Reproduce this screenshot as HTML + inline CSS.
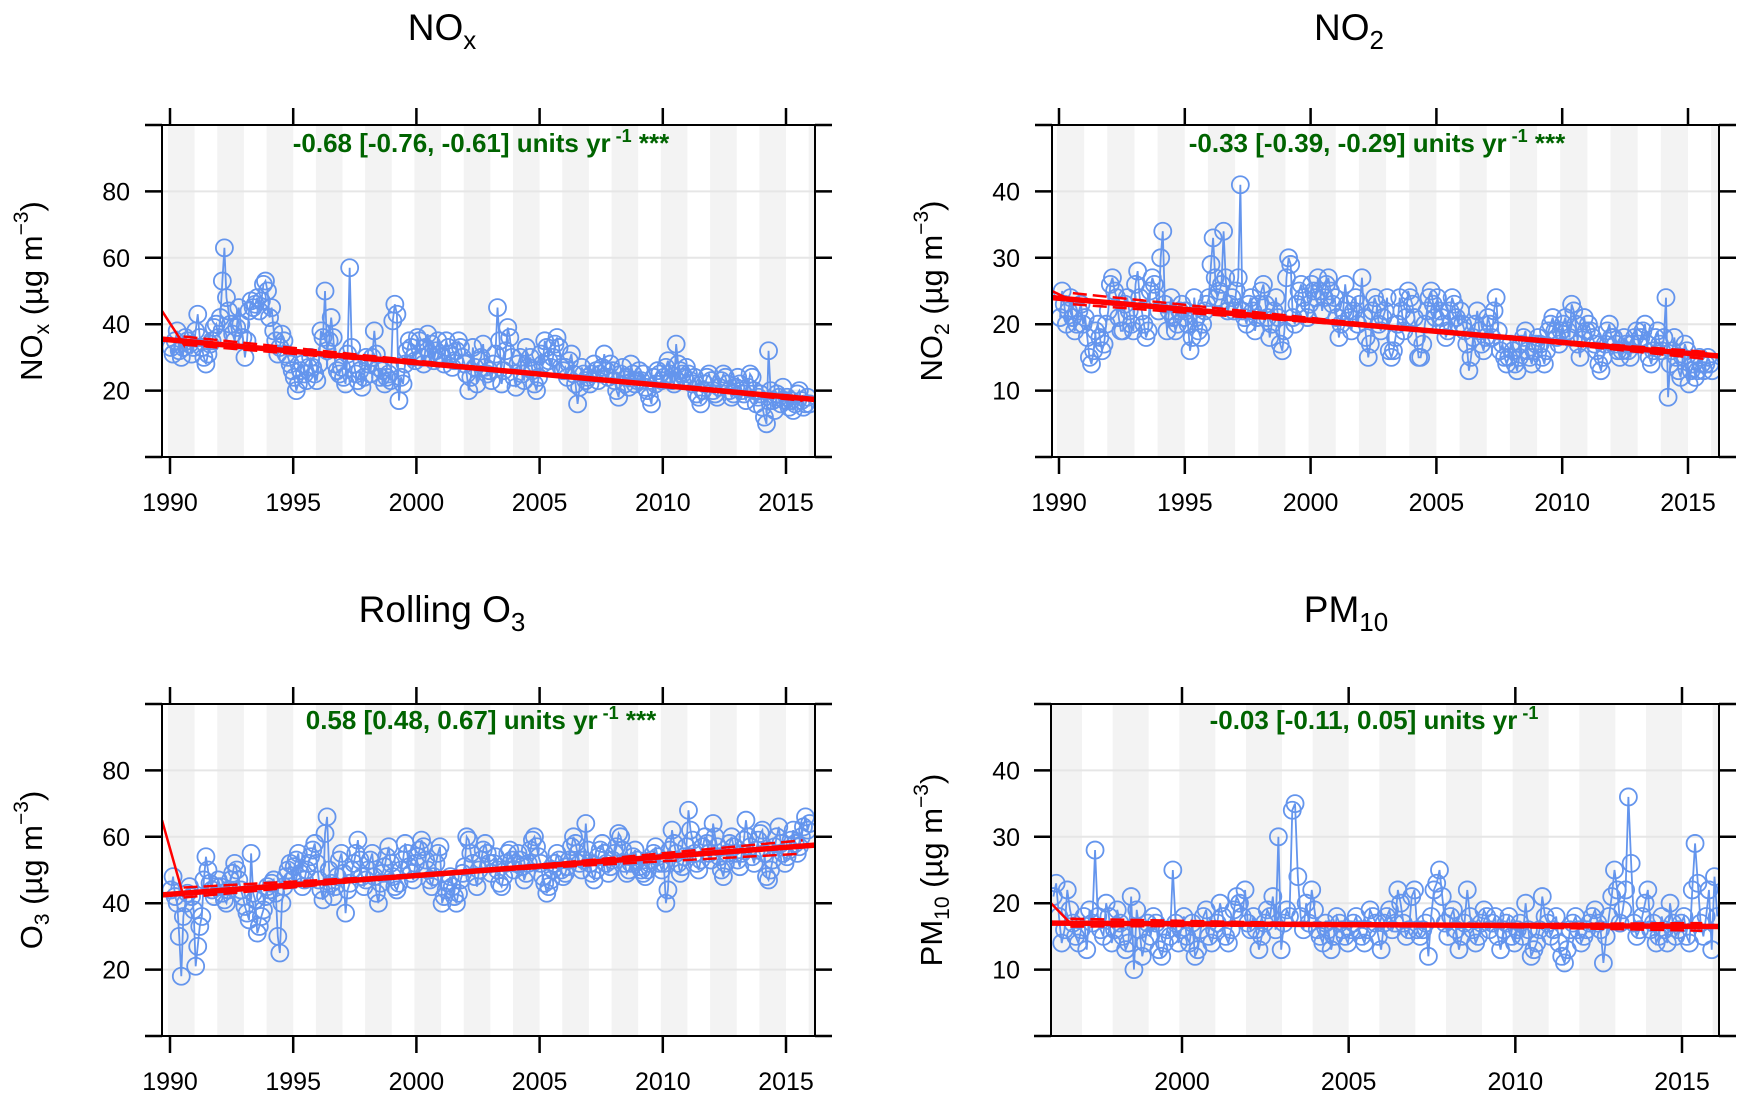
<!DOCTYPE html>
<html><head><meta charset="utf-8">
<style>
html,body{margin:0;padding:0;background:#fff;}
svg{display:block;font-family:"Liberation Sans",sans-serif;}
</style></head>
<body>
<svg id="chart" width="1746" height="1108" viewBox="0 0 1746 1108" xmlns="http://www.w3.org/2000/svg"></svg>
<script>
// ---- data (monthly means) ----
const noxValues = [
 33,31,35,38,32,30,33,36,35,34,31,33,
 38,43,36,33,30,28,31,34,35,39,40,36,
 42,53,63,48,44,40,37,35,39,45,40,36,
 30,35,44,47,45,46,48,44,47,52,53,50,
 42,45,38,35,31,33,37,35,31,30,28,26,
 24,20,22,26,28,25,23,27,30,27,25,23,
 28,38,36,50,32,35,42,36,28,26,25,27,
 24,22,31,57,33,28,25,23,26,21,24,30,
 28,25,30,38,31,27,24,26,22,24,25,23,
 41,46,43,17,24,22,28,32,35,33,30,29,
 36,35,30,28,33,37,31,34,29,32,35,31,
 30,28,35,33,31,27,29,32,35,33,30,28,
 25,20,24,33,27,22,29,30,34,27,25,26,
 23,28,31,45,35,22,26,32,39,36,30,24,
 21,28,30,25,23,33,27,30,26,22,20,24,
 31,28,35,33,29,27,30,34,36,33,27,26,
 27,24,29,31,25,22,16,21,27,25,23,24,
 22,25,28,26,23,25,27,31,26,24,28,26,
 23,20,18,25,27,22,24,21,28,25,22,23,
 26,23,25,21,20,18,16,24,22,26,25,23,
 24,27,29,25,23,22,34,28,26,25,24,27,
 25,23,22,24,19,18,16,20,22,24,25,23,
 20,19,18,21,23,25,24,22,20,18,19,21,
 24,22,20,19,17,21,25,24,20,16,18,19,
 15,12,10,32,20,17,14,19,18,16,21,17,
 18,15,17,14,16,19,20,17,15,16,18,16
];
const no2Values = [
 21,25,23,20,22,24,21,19,20,22,23,20,
 21,18,15,14,16,19,20,18,16,17,20,22,
 26,27,25,24,21,19,19,23,24,22,20,19,
 26,28,24,22,20,18,19,25,27,26,24,22,
 30,34,23,19,22,24,21,19,20,22,23,21,
 22,20,16,18,24,21,19,18,20,22,23,24,
 29,33,27,24,25,26,34,27,22,23,24,22,
 25,27,41,22,21,20,23,24,22,19,21,23,
 25,26,23,21,18,20,22,24,21,17,16,19,
 27,30,29,21,20,23,25,26,24,22,21,23,
 26,25,24,27,25,22,24,26,27,25,23,24,
 21,18,20,22,26,23,21,19,22,24,20,23,
 27,21,18,15,17,22,24,23,20,19,21,22,
 24,16,15,16,18,20,24,22,19,21,25,24,
 23,21,18,15,15,17,20,22,24,25,23,21,
 24,22,21,20,18,19,22,24,23,21,20,22,
 20,19,17,13,15,18,20,22,19,17,16,18,
 21,20,18,22,24,19,16,17,15,14,15,17,
 16,14,13,15,17,18,19,16,15,14,16,17,
 18,17,15,14,16,19,20,21,19,18,17,19,
 20,21,19,18,23,22,20,17,15,18,21,19,
 20,19,18,17,16,14,13,15,17,19,20,18,
 18,17,16,15,16,18,17,16,15,17,18,19,
 17,18,19,20,17,15,14,16,18,19,17,16,
 18,24,9,14,16,18,15,13,12,15,17,16,
 11,13,14,12,13,15,14,13,14,15,14,13
];
const o3Values = [
 44,48,42,40,30,18,36,40,43,45,42,38,
 21,27,33,36,47,54,50,46,44,42,45,47,
 45,43,41,40,44,47,49,52,50,47,44,42,
 39,37,35,55,43,41,31,33,36,38,42,45,
 44,46,47,43,30,25,40,45,48,50,52,47,
 51,53,55,49,45,47,50,52,54,56,58,52,
 47,44,41,61,66,50,46,42,45,48,53,55,
 49,37,44,46,50,52,55,59,53,48,45,47,
 50,53,55,48,43,40,46,49,51,54,57,52,
 48,45,44,46,50,53,58,55,51,49,47,52,
 54,56,59,57,53,50,47,45,48,52,55,57,
 40,42,44,46,48,45,42,40,43,47,49,51,
 60,59,55,52,48,45,50,53,56,58,55,52,
 49,52,54,50,46,45,48,52,55,56,53,50,
 52,55,53,51,47,49,52,56,59,60,57,54,
 52,48,46,43,45,47,50,52,55,53,50,48,
 49,51,53,57,60,58,55,52,50,53,64,56,
 52,49,47,50,54,56,58,55,52,49,51,53,
 55,57,61,60,56,52,49,50,52,54,56,53,
 51,50,49,48,50,52,53,55,57,54,52,50,
 52,40,44,56,62,58,55,52,49,51,54,57,
 68,62,59,55,52,50,53,57,60,58,55,53,
 64,60,57,54,50,48,52,55,58,60,57,55,
 53,51,55,59,65,60,57,54,52,56,59,61,
 62,55,48,47,50,53,57,60,63,58,55,52,
 54,56,59,62,58,55,57,60,63,66,62,64
];
const pm10Values = [
 21,23,18,14,16,22,19,17,15,14,16,18,
 13,19,17,28,18,16,15,20,18,14,16,19,
 17,15,13,14,21,10,19,16,12,14,17,15,
 18,17,13,12,14,16,15,25,17,14,16,18,
 15,14,17,12,13,16,18,19,15,14,16,17,
 20,18,15,14,16,19,21,20,18,22,17,16,
 18,16,13,15,17,19,18,21,16,30,13,17,
 19,18,34,35,24,18,16,20,17,22,19,16,
 15,14,17,16,13,15,18,17,16,15,14,16,
 17,18,16,15,14,16,19,18,17,15,13,17,
 18,19,16,17,22,20,17,15,16,21,22,16,
 15,16,17,12,18,22,23,25,21,17,15,18,
 19,16,13,15,17,22,18,16,14,15,17,19,
 18,16,17,18,15,13,16,17,18,15,14,16,
 17,15,20,16,12,13,14,16,21,18,17,15,
 16,18,14,12,11,13,16,17,18,16,14,15,
 16,17,18,19,17,16,11,15,18,21,25,22,
 17,19,22,36,26,17,15,16,18,20,22,16,
 17,14,15,18,16,14,20,17,15,16,17,18,
 15,14,22,29,23,17,15,18,22,13,24,18
];
// trend values [start, end]
const noxTrend = [35.5, 17.3];
const no2Trend = [24.0, 15.2];
const o3Trend = [42.5, 57.5];
const pm10Trend = [17.0, 16.5];
const noxArtifact = [44, 34];
const no2Artifact = [25, 23.5];
const o3Artifact = [65, 42];
const pm10Artifact = [20, 17];

const svg = document.getElementById('chart');
const NS = 'http://www.w3.org/2000/svg';
function mk(tag, attrs, parent){
  const e = document.createElementNS(NS, tag);
  for (const k in attrs) e.setAttribute(k, attrs[k]);
  (parent||svg).appendChild(e);
  return e;
}

const panels = [
 {key:'nox', vals:noxValues, t0:1990, trend:noxTrend, art:noxArtifact,
  box:[162,125,815,457], ymax:100, xa:[1990,170,2015,786], xt:[1990,1995,2000,2005,2010,2015],
  yt:[20,40,60,80], titleX:442, titleY:40,
  ann:'-0.68 [-0.76, -0.61] units yr', stars:' ***', annX:481, annY:152,
  ylab:['NO','x'], ylabX:42, tickRight:130},
 {key:'no2', vals:no2Values, t0:1990, trend:no2Trend, art:no2Artifact,
  box:[1052,125,1719,457], ymax:50, xa:[1990,1059,2015,1688], xt:[1990,1995,2000,2005,2010,2015],
  yt:[10,20,30,40], titleX:1349, titleY:40,
  ann:'-0.33 [-0.39, -0.29] units yr', stars:' ***', annX:1377, annY:152,
  ylab:['NO','2'], ylabX:942, tickRight:1020},
 {key:'o3', vals:o3Values, t0:1990, trend:o3Trend, art:o3Artifact,
  box:[162,704,815,1036], ymax:100, xa:[1990,170,2015,786], xt:[1990,1995,2000,2005,2010,2015],
  yt:[20,40,60,80], titleX:442, titleY:622,
  ann:'0.58 [0.48, 0.67] units yr', stars:' ***', annX:481, annY:729,
  ylab:['O','3'], ylabX:42, tickRight:130},
 {key:'pm10', vals:pm10Values, t0:1996.1, trend:pm10Trend, art:pm10Artifact,
  box:[1051,704,1719,1036], ymax:50, xa:[2000,1182,2015,1682], xt:[2000,2005,2010,2015],
  yt:[10,20,30,40], titleX:1346, titleY:622,
  ann:'-0.03 [-0.11, 0.05] units yr', stars:'', annX:1374, annY:729,
  ylab:['PM','10'], ylabX:942, tickRight:1020}
];
const titles = {nox:['NO','x'], no2:['NO','2'], o3:['Rolling O','3'], pm10:['PM','10']};

panels.forEach(p=>{
  const [L,T,R,B] = p.box;
  const xs = (p.xa[3]-p.xa[1])/(p.xa[2]-p.xa[0]);
  const X = t => p.xa[1] + (t - p.xa[0])*xs;
  const Y = v => B - v*(B-T)/p.ymax;
  const yearMin = p.xa[0] + (L-p.xa[1])/xs, yearMax = p.xa[0] + (R-p.xa[1])/xs;
  const g = mk('g', {});
  
  
  const clipId = 'clip-'+p.key;
  const cp = mk('clipPath', {id:clipId}, g);
  mk('rect', {x:L, y:T, width:R-L, height:B-T}, cp);
  const pg = mk('g', {'clip-path':`url(#${clipId})`}, g);
  
  
  for (let y=1986; y<=2018; y+=2){
    const a = Math.max(yearMin, y-0.08), b = Math.min(yearMax, y+1);
    if (b<=a) continue;
    const r = mk('rect', {x:X(a), y:T, width:X(b)-X(a), height:B-T, fill:'#f3f3f3'}, pg);
    
    
  }
  p.yt.forEach(v=>{
    const l = mk('line', {x1:L, x2:R, y1:Y(v), y2:Y(v), stroke:'#e6e6e6', 'stroke-width':2}, pg);
    
    
  });
  const pts = p.vals.map((v,i)=>[X(p.t0 + (i+0.5)/12), Y(v)]);
  const line = mk('polyline', {points: pts.map(q=>q.join(',')).join(' '), fill:'none', stroke:'#6495ED', 'stroke-width':1.8}, pg);
  
  
  pts.forEach(q=>{
    const c = mk('circle', {cx:q[0], cy:q[1], r:8.5, fill:'none', stroke:'#6495ED', 'stroke-width':1.8}, pg);
    
    
  });
  const ts = p.t0 + 0.55, te = yearMax;
  const slope = (p.trend[1]-p.trend[0])/(te - yearMin);
  const tv = t => p.trend[0] + slope*(t - yearMin);
  const art = mk('polyline', {points:`${X(yearMin)},${Y(p.art[0])} ${X(ts)},${Y(p.art[1])} ${X(ts)},${Y(tv(ts))}`, fill:'none', stroke:'#ff0000', 'stroke-width':2.5}, pg);
  
  
  [[1.04,0.96],[0.97,1.03]].forEach(f=>{
    const d = mk('line', {x1:X(ts), y1:Y(tv(ts)*f[0]), x2:X(te-0.5), y2:Y(tv(te-0.5)*f[1]), stroke:'#ff0000', 'stroke-width':2.5, 'stroke-dasharray':'14,6'}, pg);
    
    
  });
  const tl = mk('line', {x1:X(yearMin), y1:Y(tv(yearMin)), x2:X(te), y2:Y(tv(te)), stroke:'#ff0000', 'stroke-width':5.5}, pg);
  
  
  const bx = mk('rect', {x:L, y:T, width:R-L, height:B-T, fill:'none', stroke:'#000', 'stroke-width':2}, g);
  
  
  const allY = [0].concat(p.yt, [p.ymax]);
  allY.forEach(v=>{
    mk('line', {x1:L-17, x2:L, y1:Y(v), y2:Y(v), stroke:'#000', 'stroke-width':2.5}, g);
    mk('line', {x1:R, x2:R+17, y1:Y(v), y2:Y(v), stroke:'#000', 'stroke-width':2.5}, g);
  });
  p.yt.forEach(v=>{
    const t = mk('text', {x:p.tickRight, y:Y(v)+9, 'text-anchor':'end', 'font-size':25, fill:'#000'}, g);
    t.textContent = v;
    
    
  });
  p.xt.forEach(yr=>{
    mk('line', {x1:X(yr), x2:X(yr), y1:T-17, y2:T, stroke:'#000', 'stroke-width':2.5}, g);
    mk('line', {x1:X(yr), x2:X(yr), y1:B, y2:B+17, stroke:'#000', 'stroke-width':2.5}, g);
    const t = mk('text', {x:X(yr), y:B+54, 'text-anchor':'middle', 'font-size':25, fill:'#000'}, g);
    t.textContent = yr;
    
    
  });
  const tt = mk('text', {x:p.titleX, y:p.titleY, 'text-anchor':'middle', 'font-size':37, fill:'#000'}, g);
  const tp = titles[p.key];
  tt.innerHTML = `${tp[0]}<tspan font-size="26" dy="9">${tp[1]}</tspan>`;
  
  
  const an = mk('text', {x:p.annX, y:p.annY, 'text-anchor':'middle', 'font-size':26, 'font-weight':'bold', fill:'#006400'}, g);
  an.innerHTML = `${p.ann}<tspan font-size="18" dy="-10"> -1</tspan><tspan dy="10">${p.stars}</tspan>`;
  
  
  const cy = (T+B)/2;
  const yl = mk('text', {x:p.ylabX, y:cy, 'text-anchor':'middle', 'font-size':31, fill:'#000', transform:`rotate(-90 ${p.ylabX} ${cy})`}, g);
  yl.innerHTML = `${p.ylab[0]}<tspan font-size="21" dy="7">${p.ylab[1]}</tspan><tspan dy="-7"> (µg m</tspan><tspan font-size="21" dy="-14">−3</tspan><tspan dy="14">)</tspan>`;
  
  
});
</script>
</body></html>
